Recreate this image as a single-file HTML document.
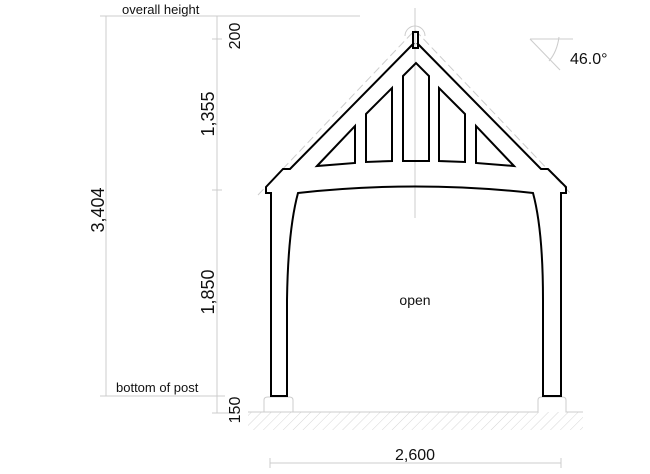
<!DOCTYPE html>
<html><head><meta charset="utf-8"><style>
html,body{margin:0;padding:0;background:#fff;width:650px;height:474px;overflow:hidden}
text{font-family:"Liberation Sans",Arial,sans-serif;fill:#111}
</style></head><body>
<svg width="650" height="474" viewBox="0 0 650 474" xmlns="http://www.w3.org/2000/svg">
<defs>
<pattern id="h" width="7" height="7" patternUnits="userSpaceOnUse" patternTransform="rotate(45)">
<line x1="0" y1="0" x2="0" y2="7" stroke="#ccc" stroke-width="0.8"/>
</pattern>
</defs>
<!-- dimension lines -->
<g stroke="#ccc" stroke-width="1" fill="none">
<line x1="100" y1="16" x2="360" y2="16"/>
<line x1="100" y1="396" x2="225" y2="396"/>
<line x1="106" y1="16" x2="106" y2="396"/>
<line x1="217" y1="16" x2="217" y2="413"/>
<line x1="212" y1="39" x2="222" y2="39"/>
<line x1="212" y1="190" x2="222" y2="190"/>
<line x1="212" y1="413" x2="240" y2="413"/>
<line x1="415" y1="8" x2="415" y2="218"/>
<line x1="270" y1="463" x2="561" y2="463"/>
<line x1="270" y1="458" x2="270" y2="468"/>
<line x1="561" y1="458" x2="561" y2="468"/>
<!-- angle symbol -->
<line x1="530" y1="39" x2="573" y2="39"/>
<line x1="530" y1="39" x2="560" y2="70"/>
<path d="M559,37 Q557,52 549,61"/>
<!-- dashed roof outline -->
<path d="M258,195 L415,30 L572,195" stroke-dasharray="8,4"/>
<path d="M415,26 a10,10 0 0 1 10,10 M415,26 a10,10 0 0 0 -10,10"/>
</g>
<!-- ground -->
<rect x="248" y="412" width="335" height="18" fill="url(#h)"/>
<path d="M248,412 L293,412 L293,400 Q293,397 289,397 L268,397 Q264,397 264,400 L264,412 M293,412 L538,412 L538,400 Q538,397 542,397 L562,397 Q566,397 566,400 L566,412 L583,412" fill="#fff" stroke="#ccc" stroke-width="1"/>
<!-- frame -->
<g stroke="#000" stroke-width="2" fill="none" stroke-linejoin="miter">
<path d="M414,43 L290,169 L283,169 L266,187 L266,193 L271,193 L271,396 L287,396 L287,300 Q288,230 298,193 Q415,180 533,193 Q543,230 543,300 L543,396 L561,396 L561,193 L566,193 L566,187 L548,169 L541,169 L417,43"/>
<rect x="413" y="32" width="5" height="16"/>
<path d="M317,166 L355,126 L355,163 Z"/>
<path d="M366,114 L392,88 L392,161 L366,162 Z"/>
<path d="M403,76 L416,63 L429,76 L429,161 L403,161 Z"/>
<path d="M465,114 L439,88 L439,161 L465,162 Z"/>
<path d="M514,166 L476,126 L476,163 Z"/>
</g>
<!-- texts -->
<text x="122" y="14" font-size="13">overall height</text>
<text x="116" y="392" font-size="13">bottom of post</text>
<text x="415" y="305" font-size="14" text-anchor="middle">open</text>
<text x="415" y="460" font-size="16" text-anchor="middle">2,600</text>
<text x="570" y="64" font-size="16">46.0°</text>
<text transform="translate(104,210) rotate(-90)" font-size="18" text-anchor="middle">3,404</text>
<text transform="translate(214,114) rotate(-90)" font-size="18" text-anchor="middle">1,355</text>
<text transform="translate(214,292) rotate(-90)" font-size="18" text-anchor="middle">1,850</text>
<text transform="translate(240,36) rotate(-90)" font-size="16" text-anchor="middle">200</text>
<text transform="translate(240,410) rotate(-90)" font-size="16" text-anchor="middle">150</text>
</svg>
</body></html>
